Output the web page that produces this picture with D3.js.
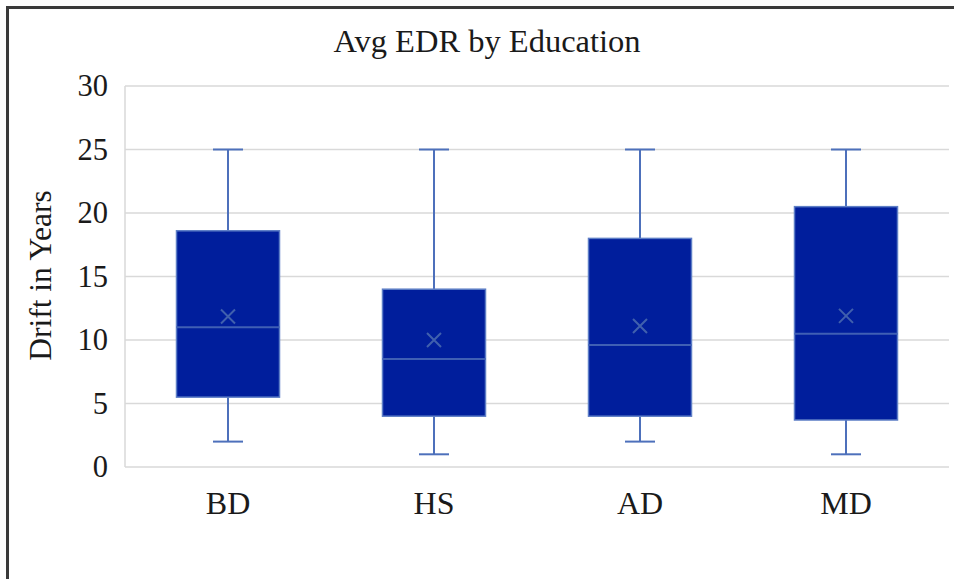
<!DOCTYPE html>
<html>
<head>
<meta charset="utf-8">
<script src="https://cdn.jsdelivr.net/npm/d3@7"></script>
<style>
  html, body { margin: 0; padding: 0; background: #ffffff; }
  svg { display: block; }
  text { font-family: "Liberation Serif", "Times New Roman", serif; fill: #1a1a1a; }
</style>
</head>
<body>
<svg id="chart" width="954" height="579"></svg>
<script>
// Box-plot summary per education level (years of drift)
const categories  = ["BD", "HS", "AD", "MD"];
const whiskerLow  = [2, 1, 2, 1];
const q1          = [5.5, 4, 4, 3.7];
const median      = [11, 8.5, 9.6, 10.5];
const q3          = [18.6, 14, 18, 20.5];
const whiskerHigh = [25, 25, 25, 25];
const mean        = [11.85, 10, 11.1, 11.9];
const yTicks      = [0, 5, 10, 15, 20, 25, 30];

const svg = d3.select("#chart");
const W = 954, H = 579;
const plot = { left: 125, right: 949, top: 86, bottom: 467 };

const x = d3.scaleBand().domain(categories).range([plot.left, plot.right]);
const y = d3.scaleLinear().domain([0, 30]).range([plot.bottom, plot.top]);

// chart frame
svg.append("path")
  .attr("d", `M7.5,${H + 5} V7.5 H${W + 5}`)
  .attr("fill", "none")
  .attr("stroke", "#3a3a3a")
  .attr("stroke-width", 3);

// title
svg.append("text")
  .attr("x", 487).attr("y", 52)
  .attr("text-anchor", "middle")
  .attr("font-size", 32.5)
  .text("Avg EDR by Education");

// gridlines
svg.append("g")
  .selectAll("line")
  .data(yTicks)
  .join("line")
  .attr("x1", plot.left).attr("x2", plot.right)
  .attr("y1", d => y(d)).attr("y2", d => y(d))
  .attr("stroke", "#d9d9d9")
  .attr("stroke-width", 1.5);

// vertical axis line
svg.append("line")
  .attr("x1", plot.left).attr("x2", plot.left)
  .attr("y1", y(30)).attr("y2", y(0))
  .attr("stroke", "#d9d9d9")
  .attr("stroke-width", 1.5);

// y axis labels
const yAxis = d3.axisLeft(y).tickValues(yTicks).tickSize(0).tickPadding(17);
const yg = svg.append("g")
  .attr("transform", `translate(${plot.left},0)`)
  .call(yAxis);
yg.select(".domain").remove();
yg.selectAll("text")
  .attr("font-size", 30.5)
  .attr("font-family", "Liberation Serif, Times New Roman, serif")
  .attr("fill", "#1a1a1a");

// x axis labels
const xAxis = d3.axisBottom(x).tickSize(0).tickPadding(24);
const xg = svg.append("g")
  .attr("transform", `translate(0,${plot.bottom})`)
  .call(xAxis);
xg.select(".domain").remove();
xg.selectAll("text")
  .attr("font-size", 32)
  .attr("font-family", "Liberation Serif, Times New Roman, serif")
  .attr("fill", "#1a1a1a");

// y axis title
svg.append("text")
  .attr("transform", `translate(51,${(plot.top + plot.bottom) / 2 - 1}) rotate(-90)`)
  .attr("text-anchor", "middle")
  .attr("font-size", 31.5)
  .text("Drift in Years");

// boxes
const stats = categories.map((c, i) => ({
  c, lo: whiskerLow[i], q1: q1[i], med: median[i], q3: q3[i], hi: whiskerHigh[i], mean: mean[i]
}));

const boxW = x.bandwidth() * 0.5;
const capW = 30;
const whiskerColor = "#4d70bb";

const g = svg.append("g")
  .selectAll("g")
  .data(stats)
  .join("g")
  .attr("transform", d => `translate(${x(d.c) + x.bandwidth() / 2},0)`);

// whiskers
g.append("line")
  .attr("x1", 0).attr("x2", 0)
  .attr("y1", d => y(d.hi)).attr("y2", d => y(d.q3))
  .attr("stroke", whiskerColor).attr("stroke-width", 2);
g.append("line")
  .attr("x1", 0).attr("x2", 0)
  .attr("y1", d => y(d.q1)).attr("y2", d => y(d.lo))
  .attr("stroke", whiskerColor).attr("stroke-width", 2);
g.append("line")
  .attr("x1", -capW / 2).attr("x2", capW / 2)
  .attr("y1", d => y(d.hi)).attr("y2", d => y(d.hi))
  .attr("stroke", whiskerColor).attr("stroke-width", 2);
g.append("line")
  .attr("x1", -capW / 2).attr("x2", capW / 2)
  .attr("y1", d => y(d.lo)).attr("y2", d => y(d.lo))
  .attr("stroke", whiskerColor).attr("stroke-width", 2);

// box body
g.append("rect")
  .attr("x", -boxW / 2)
  .attr("width", boxW)
  .attr("y", d => y(d.q3))
  .attr("height", d => y(d.q1) - y(d.q3))
  .attr("fill", "#001e9c")
  .attr("stroke", "#5d7ec6")
  .attr("stroke-width", 1.5);

// median
g.append("line")
  .attr("x1", -boxW / 2).attr("x2", boxW / 2)
  .attr("y1", d => y(d.med)).attr("y2", d => y(d.med))
  .attr("stroke", "#3f5fb4").attr("stroke-width", 2);

// mean marker
const m = 7;
g.append("path")
  .attr("d", d => {
    const cy = y(d.mean);
    return `M${-m},${cy - m}L${m},${cy + m}M${-m},${cy + m}L${m},${cy - m}`;
  })
  .attr("stroke", "#4060ad")
  .attr("stroke-width", 2)
  .attr("fill", "none");
</script>
</body>
</html>
